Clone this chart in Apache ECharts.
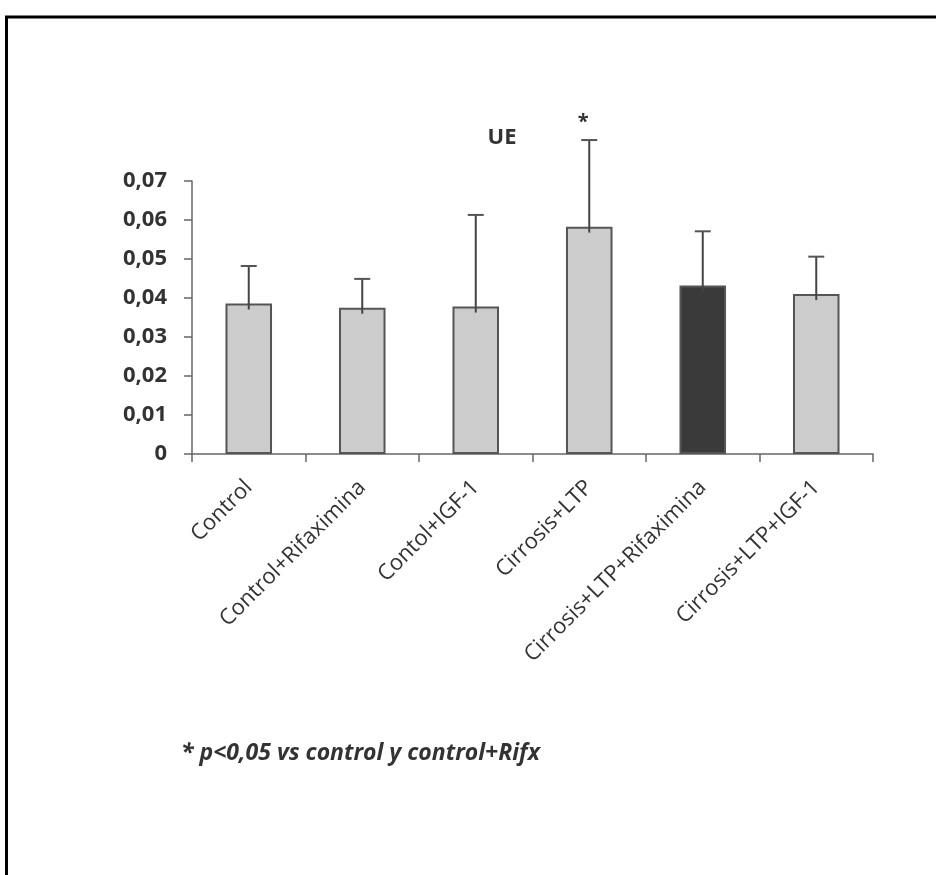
<!DOCTYPE html>
<html>
<head>
<meta charset="utf-8">
<script src="https://cdn.jsdelivr.net/npm/echarts@6/dist/echarts.min.js"></script>
<style>
html,body{margin:0;padding:0;background:#fff;}
#chart{width:936px;height:875px;}
</style>
</head>
<body>
<div id="chart"></div>
<script>
// ---- data ----
var categories = ['Control', 'Control+Rifaximina', 'Contol+IGF-1', 'Cirrosis+LTP', 'Cirrosis+LTP+Rifaximina', 'Cirrosis+LTP+IGF-1'];
var means = [0.0386, 0.0375, 0.0378, 0.0583, 0.0432, 0.0410];
var upperErr = [0.0482, 0.0449, 0.0613, 0.0805, 0.0571, 0.0506];
var sigMarks = ['', '', '', '*', '', ''];
var yTicks = [0, 0.01, 0.02, 0.03, 0.04, 0.05, 0.06, 0.07];
var chartTitle = 'UE';
var footnote = '* p<0,05 vs control y control+Rifx';
var darkIndex = 4;

var FONT = '"Open Sans", "DejaVu Sans", sans-serif';
var TXT = '#333333';

var chart = echarts.init(document.getElementById('chart'), null, {renderer: 'canvas'});

var barData = means.map(function (v, i) {
  return {
    value: v,
    itemStyle: {color: i === darkIndex ? '#3a3a3a' : '#cccccc'}
  };
});

var errData = means.map(function (v, i) { return [i, v, upperErr[i]]; });

var option = {
  backgroundColor: '#ffffff',
  animation: false,
  title: {
    text: chartTitle,
    left: 497, top: 122, textAlign: 'center',
    textStyle: {fontFamily: FONT, fontWeight: 'bold', fontSize: 22, color: TXT}
  },
  grid: {left: 192, right: 63, top: 181, bottom: 421, containLabel: false},
  xAxis: {
    type: 'category',
    data: categories,
    boundaryGap: true,
    axisLine: {show: true, lineStyle: {color: '#666666', width: 1.5}},
    axisTick: {show: true, length: 8, lineStyle: {color: '#666666', width: 1.5}},
    axisLabel: {
      interval: 0, rotate: 45, margin: 30,
      fontFamily: FONT, fontSize: 22, color: TXT
    },
    splitLine: {show: false}
  },
  yAxis: {
    type: 'value',
    min: yTicks[0], max: yTicks[yTicks.length - 1], interval: yTicks[1] - yTicks[0],
    axisLine: {show: true, lineStyle: {color: '#666666', width: 1.5}},
    axisTick: {show: true, length: 8, lineStyle: {color: '#666666', width: 1.5}},
    splitLine: {show: false},
    axisLabel: {
      margin: 25,
      fontFamily: FONT, fontWeight: 'bold', fontSize: 22, color: TXT,
      formatter: function (v) {
        if (Math.abs(v) < 1e-9) return '0';
        return v.toFixed(2).replace('.', ',');
      }
    }
  },
  series: [
    {
      type: 'bar',
      data: barData,
      barWidth: '41%',
      itemStyle: {borderColor: '#555555', borderWidth: 2},
      z: 2
    },
    {
      type: 'custom',
      data: errData,
      clip: false,
      z: 3,
      renderItem: function (params, api) {
        var i = api.value(0);
        var base = api.coord([i, api.value(1)]);
        var top = api.coord([i, api.value(2)]);
        var capW = 16;
        var children = [
          {type: 'line', shape: {x1: base[0], y1: base[1] + 6, x2: top[0], y2: top[1]},
           style: {stroke: '#444444', lineWidth: 2}},
          {type: 'line', shape: {x1: top[0] - capW / 2, y1: top[1], x2: top[0] + capW / 2, y2: top[1]},
           style: {stroke: '#555555', lineWidth: 2}}
        ];
        if (sigMarks[params.dataIndex]) {
          children.push({
            type: 'text',
            style: {
              text: sigMarks[params.dataIndex], x: top[0] - 6, y: top[1] - 18,
              align: 'center', verticalAlign: 'middle',
              font: 'bold 20px ' + FONT, fill: TXT
            }
          });
        }
        return {type: 'group', children: children};
      }
    }
  ],
  graphic: [
    {type: 'line', shape: {x1: 5, y1: 17, x2: 936, y2: 17}, style: {stroke: '#000', lineWidth: 3}},
    {type: 'line', shape: {x1: 6.5, y1: 16, x2: 6.5, y2: 875}, style: {stroke: '#000', lineWidth: 3}},
    {type: 'text', left: 181, top: 742,
     style: {text: footnote, font: 'italic bold 23px ' + FONT, fill: TXT}}
  ]
};
chart.setOption(option);
</script>
</body>
</html>
